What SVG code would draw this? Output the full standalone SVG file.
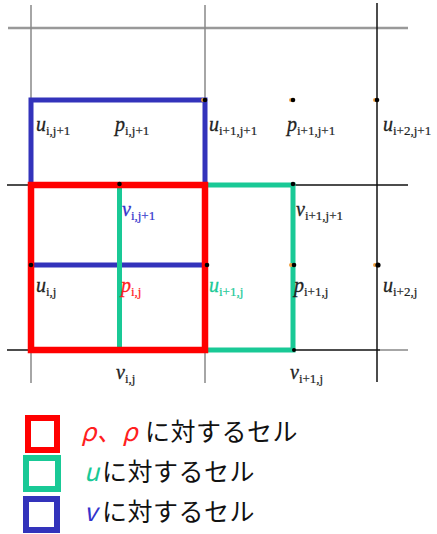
<svg xmlns="http://www.w3.org/2000/svg" width="437" height="534" viewBox="0 0 437 534">
<style>
.grid{stroke:#999;stroke-width:2.5;fill:none}
.blk{stroke:#111;stroke-width:1.5;fill:none}
.gry{stroke:#888;stroke-width:1.5;fill:none}
.lbl{font-family:"Liberation Serif",serif;font-style:italic;font-size:20px;fill:#222;stroke:#222;stroke-width:0.3}
.sub{font-style:normal;font-size:13px;stroke-width:0.2}
.leg{font-family:"Noto Sans CJK JP","Noto Sans",sans-serif;font-size:25px;fill:#111;letter-spacing:0.5px}
.dot{fill:#000}
.odot{fill:#f0a040}
</style>
<rect width="437" height="534" fill="#fff"/>
<g id="connectors">
  <line class="grid" x1="8" y1="28" x2="408" y2="28"/>
  <line class="gry" x1="31" y1="5" x2="31" y2="100"/>
  <line class="gry" x1="205" y1="5" x2="205" y2="100"/>
  <line class="blk" x1="377" y1="3" x2="377" y2="382"/>
  <line class="blk" x1="7" y1="185" x2="31" y2="185"/>
  <line class="blk" x1="293" y1="185" x2="408" y2="185"/>
  <line class="blk" x1="7" y1="350" x2="31" y2="350"/>
  <line class="blk" x1="293" y1="350" x2="380" y2="350"/>
  <line class="gry" x1="380" y1="350" x2="408" y2="350"/>
  <line class="gry" x1="31" y1="350" x2="31" y2="383"/>
  <line class="gry" x1="205" y1="350" x2="205" y2="383"/>
</g>
<g id="cell-v">
  <rect x="31" y="100" width="174" height="85" fill="none" stroke="#3333bb" stroke-width="5"/>
  <line x1="31" y1="265" x2="205" y2="265" stroke="#3333bb" stroke-width="5"/>
</g>
<g id="cell-u">
  <line x1="119.5" y1="185" x2="119.5" y2="350" stroke="#19c996" stroke-width="5"/>
  <rect x="205" y="185" width="88" height="165" fill="none" stroke="#19c996" stroke-width="5"/>
</g>
<g id="cell-p">
  <rect x="31" y="185" width="174" height="165" fill="none" stroke="#ff0000" stroke-width="6.5"/>
</g>
<g id="points">
  <circle class="odot" cx="203" cy="100" r="2"/><circle class="dot" cx="205" cy="100" r="2.3"/>
  <circle class="odot" cx="291" cy="100" r="2"/><circle class="dot" cx="293" cy="100" r="2.3"/>
  <circle class="odot" cx="375" cy="100" r="2"/><circle class="dot" cx="377" cy="100" r="2.3"/>
  <circle class="dot" cx="119.5" cy="184" r="2.3"/>
  <circle class="dot" cx="293" cy="184" r="2.3"/>
  <circle class="dot" cx="31" cy="265" r="2.3"/>
  <circle class="dot" cx="207" cy="265" r="2.3"/>
  <circle class="odot" cx="291" cy="265" r="2"/><circle class="dot" cx="294" cy="265" r="2.3"/>
  <circle class="odot" cx="375" cy="265" r="2"/><circle class="dot" cx="378" cy="265" r="2.6"/>
  <circle class="dot" cx="294" cy="350" r="2"/>
</g>
<g id="labels">
  <text id="u_i_j1" class="lbl" x="36" y="131">u<tspan class="sub" dy="4">i,j+1</tspan></text>
  <text id="p_i_j1" class="lbl" x="115" y="131">p<tspan class="sub" dy="4">i,j+1</tspan></text>
  <text id="u_i1_j1" class="lbl" x="209" y="131">u<tspan class="sub" dy="4">i+1,j+1</tspan></text>
  <text id="p_i1_j1" class="lbl" x="287" y="131">p<tspan class="sub" dy="4">i+1,j+1</tspan></text>
  <text id="u_i2_j1" class="lbl" x="383" y="131">u<tspan class="sub" dy="4">i+2,j+1</tspan></text>
  <text id="v_i_j1" class="lbl" x="122" y="216" style="fill:#3333cc;stroke:#3333cc">v<tspan class="sub" dy="4">i,j+1</tspan></text>
  <text id="v_i1_j1" class="lbl" x="296" y="216">v<tspan class="sub" dy="4">i+1,j+1</tspan></text>
  <text id="u_i_j" class="lbl" x="36" y="292">u<tspan class="sub" dy="4">i,j</tspan></text>
  <text id="p_i_j" class="lbl" x="121" y="292" style="fill:#ff2020;stroke:#ff2020">p<tspan class="sub" dy="4">i,j</tspan></text>
  <text id="u_i1_j" class="lbl" x="209" y="292" style="fill:#19c996;stroke:#19c996">u<tspan class="sub" dy="4">i+1,j</tspan></text>
  <text id="p_i1_j" class="lbl" x="294" y="292">p<tspan class="sub" dy="4">i+1,j</tspan></text>
  <text id="u_i2_j" class="lbl" x="383" y="292">u<tspan class="sub" dy="4">i+2,j</tspan></text>
  <text id="v_i_j" class="lbl" x="116" y="379">v<tspan class="sub" dy="4">i,j</tspan></text>
  <text id="v_i1_j" class="lbl" x="290" y="379">v<tspan class="sub" dy="4">i+1,j</tspan></text>
</g>
<g id="legend-p">
  <rect x="28" y="418" width="29" height="32" fill="none" stroke="#ff0000" stroke-width="6"/>
  <text class="leg" x="81" y="441" style="fill:#ff2020;font-style:italic">ρ、ρ</text>
  <text class="leg" x="145" y="441">に対するセル</text>
</g>
<g id="legend-u">
  <rect x="26" y="458" width="32" height="31" fill="none" stroke="#19c996" stroke-width="6"/>
  <text class="leg" x="84" y="481" style="fill:#19c996;font-style:italic">u</text>
  <text class="leg" x="102" y="481">に対するセル</text>
</g>
<g id="legend-v">
  <rect x="26" y="499" width="31" height="31" fill="none" stroke="#3333bb" stroke-width="6"/>
  <text class="leg" x="84" y="521" style="fill:#3333cc;font-style:italic">v</text>
  <text class="leg" x="102" y="521">に対するセル</text>
</g>
</svg>
